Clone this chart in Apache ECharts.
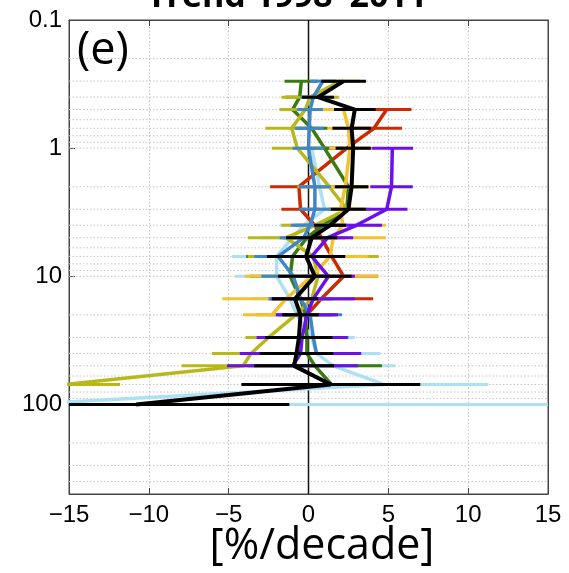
<!DOCTYPE html>
<html><head><meta charset="utf-8">
<script src="https://cdn.jsdelivr.net/npm/echarts@6/dist/echarts.min.js"></script>
<style>html,body{margin:0;padding:0;background:#fff}#c{width:569px;height:573px}</style>
</head><body><div id="c"></div>
<script>
// ---- data ----
const levels = [0.3,0.4,0.5,0.7,1,2,3,4,5,7,10,15,20,30,40,50,70,100];

const blackVal = [2.2,0.6,2.9,2.7,2.8,2.7,2.5,1.35,0.2,-0.15,0.4,-0.85,-0.5,-0.6,-0.75,-0.9,1.4,-10.8];
const blackErr = [1.4,1.0,1.3,1.2,1.1,1.05,1.1,1.0,1.6,2.45,2.3,1.45,1.15,2.1,2.3,2.5,5.6,9.6];

const purpleVal = [null,null,null,null,5.25,5.2,4.9,3.0,1.2,0.2,1.25,0.3,-0.1,-0.4,-0.5,-1.0,null,null];
const purpleErr = [null,null,null,null,1.3,1.33,1.3,1.6,1.6,1.8,1.65,2.6,1.95,2.85,3.8,4.1,null,null];

const redVal = [null,null,4.9,4.1,2.4,-0.6,-0.5,0.4,0.8,1.45,2.2,0.8,-0.1,null,null,null,null,null];
const redErr = [null,null,1.55,1.75,1.5,1.8,1.2,1.3,1.5,2.55,2.15,3.25,1.5,null,null,null,null,null];

const greenVal = [-0.45,-0.55,-1.0,0.2,1.0,2.5,2.4,0.9,-0.1,-1.0,-1.15,-0.5,-0.2,-0.1,-0.1,0.4,1.45,null];
const greenErr = [1.05,0.9,0.8,1.0,1.2,1.2,1.1,1.2,1.5,2.9,2.5,2.0,1.8,2.2,3.0,4.2,3.0,null];

const oliveVal = [2.0,0.1,-0.2,-1.05,-0.7,1.3,2.4,0.4,-1.4,0.3,0.6,0.2,-0.8,-2.5,-3.6,-4.1,-15.3,null];
const oliveErr = [1.2,1.8,1.6,1.65,1.6,2.0,1.5,2.1,2.4,4.1,2.0,2.5,2.5,1.45,2.45,3.85,3.5,null];

const yellowVal = [null,null,2.2,2.5,2.6,2.3,2.0,2.15,1.55,1.35,0.2,-1.4,-2.3,null,null,null,null,null];
const yellowErr = [null,null,1.5,1.3,1.3,1.5,1.6,2.7,3.3,2.4,4.2,4.0,1.8,null,null,null,null,null];

const lightblueVal = [null,null,null,null,0.2,0.7,1.0,-0.3,-1.0,-2.0,-2.0,-1.15,-0.74,0.2,0.5,1.55,4.76,-18];
const lightblueErr = [null,null,null,null,1.0,1.0,1.0,1.5,2.0,2.8,2.6,2.5,2.5,2.7,4.0,3.9,6.5,36];

const steelblueVal = [0.9,0.3,0.1,0.05,0.0,0.4,0.4,0.1,-0.3,-1.9,-0.95,-0.5,0.1,0.3,0.5,null,null,null];
const steelblueErr = [0.8,0.8,0.8,0.9,1.0,1.0,1.0,1.2,1.5,1.5,2.0,2.0,2.0,2.2,2.5,null,null,null];

const xTickLabels = ['\u221215','\u221210','\u22125','0','5','10','15'];
const yTickValues = [0.1,1,10,100];
const yTickLabels = ['0.1','1','10','100'];
const yGridLines = [0.2,0.3,0.4,0.5,0.6,0.7,0.8,0.9,1,2,3,4,5,6,7,8,9,10,20,30,40,50,60,70,80,90,100,200,300,400];

// ---- chart ----
const X_MIN = -15, X_MAX = 15;
const profiles = [
  {name:'lightblue', color:'#aee0f5', v:lightblueVal, e:lightblueErr, w:3.5},
  {name:'red', color:'#cc2a00', v:redVal, e:redErr, w:3.5},
  {name:'green', color:'#3b7a12', v:greenVal, e:greenErr, w:3.5},
  {name:'olive', color:'#b8b81c', v:oliveVal, e:oliveErr, w:3.5},
  {name:'yellow', color:'#f2c230', v:yellowVal, e:yellowErr, w:3.5},
  {name:'steelblue', color:'#3e86c8', v:steelblueVal, e:steelblueErr, w:3.5},
  {name:'purple', color:'#6a10f0', v:purpleVal, e:purpleErr, w:3.5},
  {name:'black', color:'#000000', v:blackVal, e:blackErr, w:4}
];

const series = [];
// dotted horizontal grid
series.push({
  type:'custom', z:1, silent:true,
  data: yGridLines.map(p => [0, p]),
  encode:{x:0,y:1},
  renderItem: function(params, api){
    const cs = params.coordSys;
    const y = api.coord([0, api.value(1)])[1];
    return {type:'line', shape:{x1:cs.x, y1:y, x2:cs.x+cs.width, y2:y},
      style:{stroke:'#c4c4c4', lineWidth:1, lineDash:[1.5,2]}};
  }
});
// zero line
series.push({
  type:'custom', z:2, silent:true,
  data:[[0, 1]], encode:{x:0,y:1},
  renderItem: function(params, api){
    const cs = params.coordSys;
    const x = api.coord([api.value(0), 1])[0];
    return {type:'line', shape:{x1:x, y1:cs.y, x2:x, y2:cs.y+cs.height},
      style:{stroke:'#111', lineWidth:1.5}};
  }
});

profiles.forEach((pr, i) => {
  const pts = [], bars = [];
  levels.forEach((p, k) => {
    if (pr.v[k] !== null) {
      pts.push([pr.v[k], p]);
      bars.push([pr.v[k], p, pr.e[k]]);
    }
  });
  series.push({
    type:'custom', name:pr.name+'-err', z:10+i, silent:true,
    data:bars, encode:{x:0,y:1},
    renderItem: function(params, api){
      const v = api.value(0), p = api.value(1), e = api.value(2);
      const lo = Math.max(X_MIN, v-e), hi = Math.min(X_MAX, v+e);
      const a = api.coord([lo,p]), b = api.coord([hi,p]);
      return {type:'line', shape:{x1:a[0],y1:a[1],x2:b[0],y2:b[1]},
        style:{stroke:pr.color, lineWidth:3}};
    }
  });
  series.push({
    type:'line', name:pr.name, z:10+i, data:pts, showSymbol:false, symbol:'none',
    clip:true, silent:true,
    lineStyle:{color:pr.color, width:pr.w}
  });
});

const chart = echarts.init(document.getElementById('c'), null, {renderer:'canvas'});
chart.setOption({
  animation:false,
  backgroundColor:'#ffffff',
  grid:{left:69, right:21, top:20, bottom:79, show:true, borderColor:'#444', borderWidth:1},
  xAxis:[{
    type:'value', min:X_MIN, max:X_MAX, interval:5, position:'bottom',
    axisLine:{show:true, onZero:false, lineStyle:{color:'#444', width:1}},
    axisTick:{show:true, inside:true, length:6, lineStyle:{color:'#444'}},
    axisLabel:{show:true, margin:9, color:'#000', fontSize:24, fontFamily:'Liberation Sans, Arial, sans-serif',
      formatter: v => xTickLabels[Math.round((v - X_MIN)/5)]},
    splitLine:{show:true, lineStyle:{color:'#c4c4c4', width:1, type:[1.5,2]}}
  },{
    type:'value', min:X_MIN, max:X_MAX, interval:5, position:'top',
    axisLine:{show:true, onZero:false, lineStyle:{color:'#444'}},
    axisTick:{show:true, inside:true, length:6, lineStyle:{color:'#444'}},
    axisLabel:{show:false}, splitLine:{show:false}
  }],
  yAxis:[{
    type:'log', logBase:10, min:0.1, max:500, inverse:true, position:'left',
    axisLine:{show:true, onZero:false, lineStyle:{color:'#444'}},
    axisTick:{show:true, inside:true, length:6, lineStyle:{color:'#444'}},
    axisLabel:{show:true, margin:7, color:'#000', fontSize:24, fontFamily:'Liberation Sans, Arial, sans-serif',
      showMaxLabel:false,
      formatter: function(v){
        for (let i=0;i<yTickValues.length;i++){
          if (Math.abs(Math.log10(v) - Math.log10(yTickValues[i])) < 1e-6) return yTickLabels[i];
        }
        return '';
      }},
    splitLine:{show:false}
  },{
    type:'log', logBase:10, min:0.1, max:500, inverse:true, position:'right',
    axisLine:{show:true, onZero:false, lineStyle:{color:'#444'}},
    axisTick:{show:false}, axisLabel:{show:false}, splitLine:{show:false}
  }],
  graphic:[
    {type:'text', x:287, y:-3, silent:true,
      style:{text:'Trend 1998\u20132011', fill:'#000', font:'bold 34px "Open Sans", sans-serif', align:'center', verticalAlign:'middle'}},
    {type:'text', x:77, y:51, silent:true, z:100,
      style:{text:'(e)', fill:'#000', font:'45px "Open Sans", sans-serif', align:'left', verticalAlign:'middle'}},
    {type:'text', x:322, y:547, silent:true,
      style:{text:'[%/decade]', fill:'#000', font:'43px "Open Sans", sans-serif', align:'center', verticalAlign:'middle'}}
  ],
  series: series
});
</script>
</body></html>
